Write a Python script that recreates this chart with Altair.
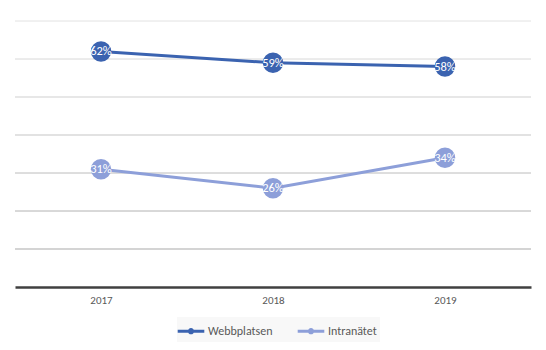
import altair as alt
import pandas as pd

years = ["2017", "2018", "2019"]
series = ["Webbplatsen", "Intranätet"]
webb = [62, 59, 58]
intra = [31, 26, 34]
grid_vals = [10, 20, 30, 40, 50, 60, 70]
colors = ["#3b63b0", "#8d9fd9"]

rows = []
for s, vals in zip(series, [webb, intra]):
    for y, v in zip(years, vals):
        rows.append({"year": y, "series": s, "value": v, "label": f"{v}%"})
df = pd.DataFrame(rows)
grid_df = pd.DataFrame({"g": grid_vals})

FONT = "Carlito, Liberation Sans Narrow, Liberation Sans, sans-serif"

yscale = alt.Scale(domain=[0, 70], nice=False, zero=True)
xscale = alt.Scale(type="point", padding=0.5, domain=years)
cscale = alt.Scale(domain=series, range=colors)

grid = alt.Chart(grid_df).mark_rule(strokeWidth=1).encode(
    y=alt.Y("g:Q", scale=yscale, axis=None),
    stroke=alt.Stroke("g:Q", scale=alt.Scale(domain=[10, 70], range=["#a9a9a9", "#e2e2e2"]), legend=None),
)

base = alt.Chart(df).encode(
    x=alt.X("year:N", scale=xscale, sort=years,
            axis=alt.Axis(title=None, labelAngle=0, ticks=False, domainColor="#404040",
                          domainWidth=2.5, labelColor="#595959", labelFontSize=11,
                          labelFont=FONT, labelPadding=7, grid=False)),
    y=alt.Y("value:Q", scale=yscale, axis=None),
    color=alt.Color("series:N", scale=cscale, sort=series,
                    legend=alt.Legend(title=None, orient="none", legendX=162, legendY=296,
                                      direction="horizontal",
                                      symbolType="M-1.4,0L1.4,0M-0.17,0A0.17,0.17 0 1,1 0.17,0A0.17,0.17 0 1,1 -0.17,0",
                                      symbolSize=361, symbolStrokeWidth=3,
                                      labelFont=FONT, labelFontSize=12, labelColor="#595959",
                                      fillColor="#f8f8f8", padding=3, columnPadding=18,
                                      labelOffset=6)),
)

lines = base.mark_line(strokeWidth=3)
points = base.mark_circle(size=420, opacity=1)
labels = alt.Chart(df).mark_text(color="white", fontSize=12.5, font=FONT).encode(
    x=alt.X("year:N", scale=xscale, sort=years),
    y=alt.Y("value:Q", scale=yscale),
    text="label:N",
)

chart = alt.layer(grid, lines, points, labels).properties(
    width=516, height=266,
    autosize=alt.AutoSizeParams(type="none"),
    padding={"left": 15, "top": 21, "right": 15, "bottom": 63},
).configure_view(stroke=None)

chart.save("out.html", embed_options={"renderer": "svg", "actions": False})
